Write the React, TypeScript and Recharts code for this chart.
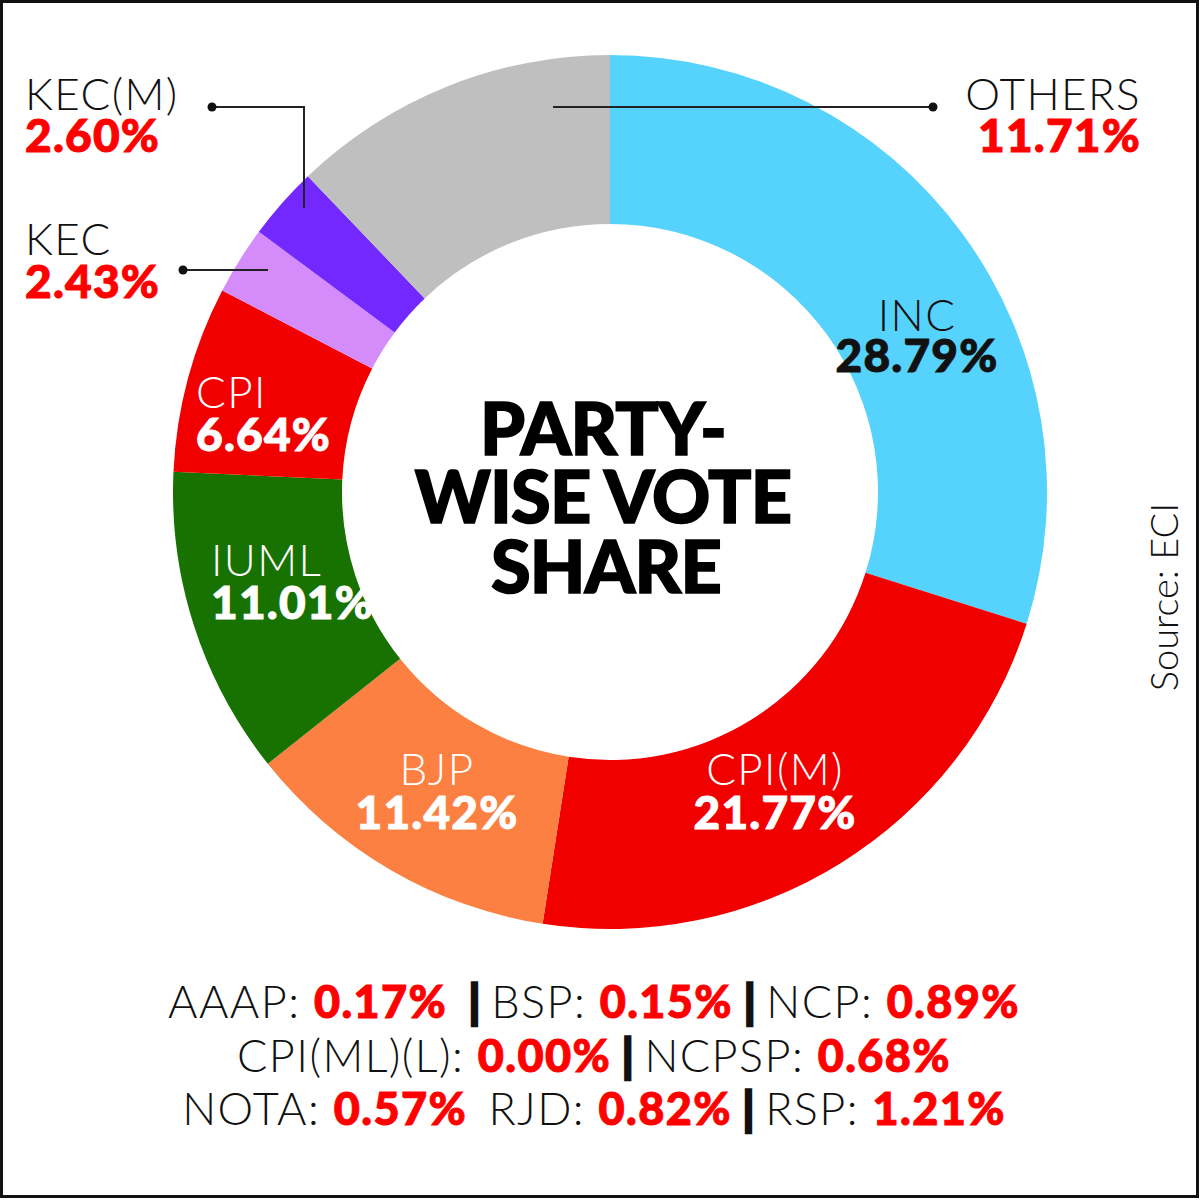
import { PieChart, Pie, Cell } from "recharts";

const parties = ["INC", "CPI(M)", "BJP", "IUML", "CPI", "KEC", "KEC(M)", "OTHERS"];
const shares = [28.79, 21.77, 11.42, 11.01, 6.64, 2.43, 2.6, 11.71];
const sliceColors = ["#56d3fc", "#f20000", "#fb8041", "#187202", "#f20000", "#d58cfb", "#7228ff", "#bfbfbf"];

const minorParties = ["AAAP", "BSP", "NCP", "CPI(ML)(L)", "NCPSP", "NOTA", "RJD", "RSP"];
const minorShares = [0.17, 0.15, 0.89, 0.0, 0.68, 0.57, 0.82, 1.21];

const data = parties.map((name, i) => ({ name, value: shares[i] }));

const FONT = "Lato, 'Open Sans', sans-serif";
const RED = "#f00";

// where each slice's label sits (anchor, x, name baseline, value baseline)
const LABELS: Record<string, any> = {
  INC: { anchor: "middle", x: 917, y1: 331, y2: 372, name: "#111", val: "#111" },
  "CPI(M)": { anchor: "middle", x: 775, y1: 785, y2: 829, name: "#fff", val: "#fff" },
  BJP: { anchor: "middle", x: 437, y1: 785, y2: 829, name: "#fff", val: "#fff" },
  IUML: { anchor: "start", x: 211, y1: 576, y2: 619, name: "#fff", val: "#fff" },
  CPI: { anchor: "start", x: 196, y1: 408, y2: 451, name: "#fff", val: "#fff" },
  KEC: {
    anchor: "start", x: 25, y1: 255, y2: 298, name: "#111", val: RED,
    dot: [183, 270], path: "M183,270 L268,270",
  },
  "KEC(M)": {
    anchor: "start", x: 25, y1: 110, y2: 152, name: "#111", val: RED,
    dot: [212, 107], path: "M212,107 L304,107 L304,208",
  },
  OTHERS: {
    anchor: "end", x: 1141, y1: 110, y2: 152, name: "#111", val: RED,
    dot: [933, 107], path: "M553,107 L933,107",
  },
};

const nameStyle = { fontWeight: 300, fontSize: 44, letterSpacing: 1.4 };
const valStyle = { fontWeight: 900, fontSize: 46, letterSpacing: 1.2 };

function renderLabel(props: any) {
  const l = LABELS[props.name];
  if (!l) return null;
  return (
    <g>
      {l.path && <path d={l.path} stroke="#222" strokeWidth={2} fill="none" />}
      {l.dot && <circle cx={l.dot[0]} cy={l.dot[1]} r={4.5} fill="#111" />}
      <text textAnchor={l.anchor} style={{ fontFamily: FONT }}>
        <tspan x={l.x} y={l.y1} fill={l.name} style={nameStyle}>
          {props.name}
        </tspan>
        <tspan x={l.x} y={l.y2} fill={l.val} stroke={l.val} strokeWidth={1} style={valStyle}>
          {props.value.toFixed(2)}%
        </tspan>
      </text>
    </g>
  );
}

const fmt = (i: number) => minorShares[i].toFixed(2) + "%";

function MinorLine({ y, items, seps }: { y: number; items: number[]; seps: string[] }) {
  return (
    <text
      x={594}
      y={y}
      textAnchor="middle"
      style={{ fontFamily: FONT, fontSize: 45, whiteSpace: "pre" }}
    >
      {items.map((idx, k) => (
        <tspan key={idx}>
          <tspan fill="#111" fontWeight={300} letterSpacing={1.4}>{minorParties[idx]}: </tspan>
          <tspan fill={RED} stroke={RED} strokeWidth={1} fontWeight={900} letterSpacing={1.4}>
            {fmt(idx)}
          </tspan>
          {k < items.length - 1 && (
            <tspan fill="#111" stroke="#111" strokeWidth={2.5} fontWeight={900}>{seps[k]}</tspan>
          )}
        </tspan>
      ))}
    </text>
  );
}

export default function App() {
  return (
    <div
      style={{
        position: "absolute",
        left: 0,
        top: 0,
        width: 1200,
        height: 1200,
        background: "#fff",
      }}
    >
      <PieChart width={1200} height={1200} margin={{ top: 0, right: 0, bottom: 0, left: 0 }}>
        <Pie
          data={data}
          dataKey="value"
          nameKey="name"
          cx={610}
          cy={492}
          innerRadius={268}
          outerRadius={437}
          startAngle={90}
          endAngle={-270}
          stroke="none"
          label={renderLabel}
          labelLine={false}
          isAnimationActive={false}
        >
          {data.map((d, i) => (
            <Cell key={d.name} fill={sliceColors[i]} />
          ))}
        </Pie>
      </PieChart>
      <svg
        width={1200}
        height={1200}
        style={{ position: "absolute", left: 0, top: 0, pointerEvents: "none" }}
      >
        <rect x={1.5} y={1.5} width={1196} height={1195} fill="none" stroke="#111" strokeWidth={3} />
        <text
          textAnchor="middle"
          fill="#000"
          stroke="#000"
          strokeWidth={1.6}
          style={{ fontFamily: FONT, fontWeight: 900, fontSize: 72, letterSpacing: -0.8 }}
        >
          <tspan x={603} y={455}>PARTY-</tspan>
          <tspan x={603} y={523}>WISE VOTE</tspan>
          <tspan x={606} y={593}>SHARE</tspan>
        </text>
        <text
          x={1178}
          y={597}
          transform="rotate(-90 1178 597)"
          textAnchor="middle"
          fill="#111"
          style={{ fontFamily: FONT, fontWeight: 300, fontSize: 38 }}
        >
          Source: ECI
        </text>
        <MinorLine y={1018} items={[0, 1, 2]} seps={["  | ", " | "]} />
        <MinorLine y={1072} items={[3, 4]} seps={[" | "]} />
        <MinorLine y={1125} items={[5, 6, 7]} seps={["  ", " | "]} />
      </svg>
    </div>
  );
}
